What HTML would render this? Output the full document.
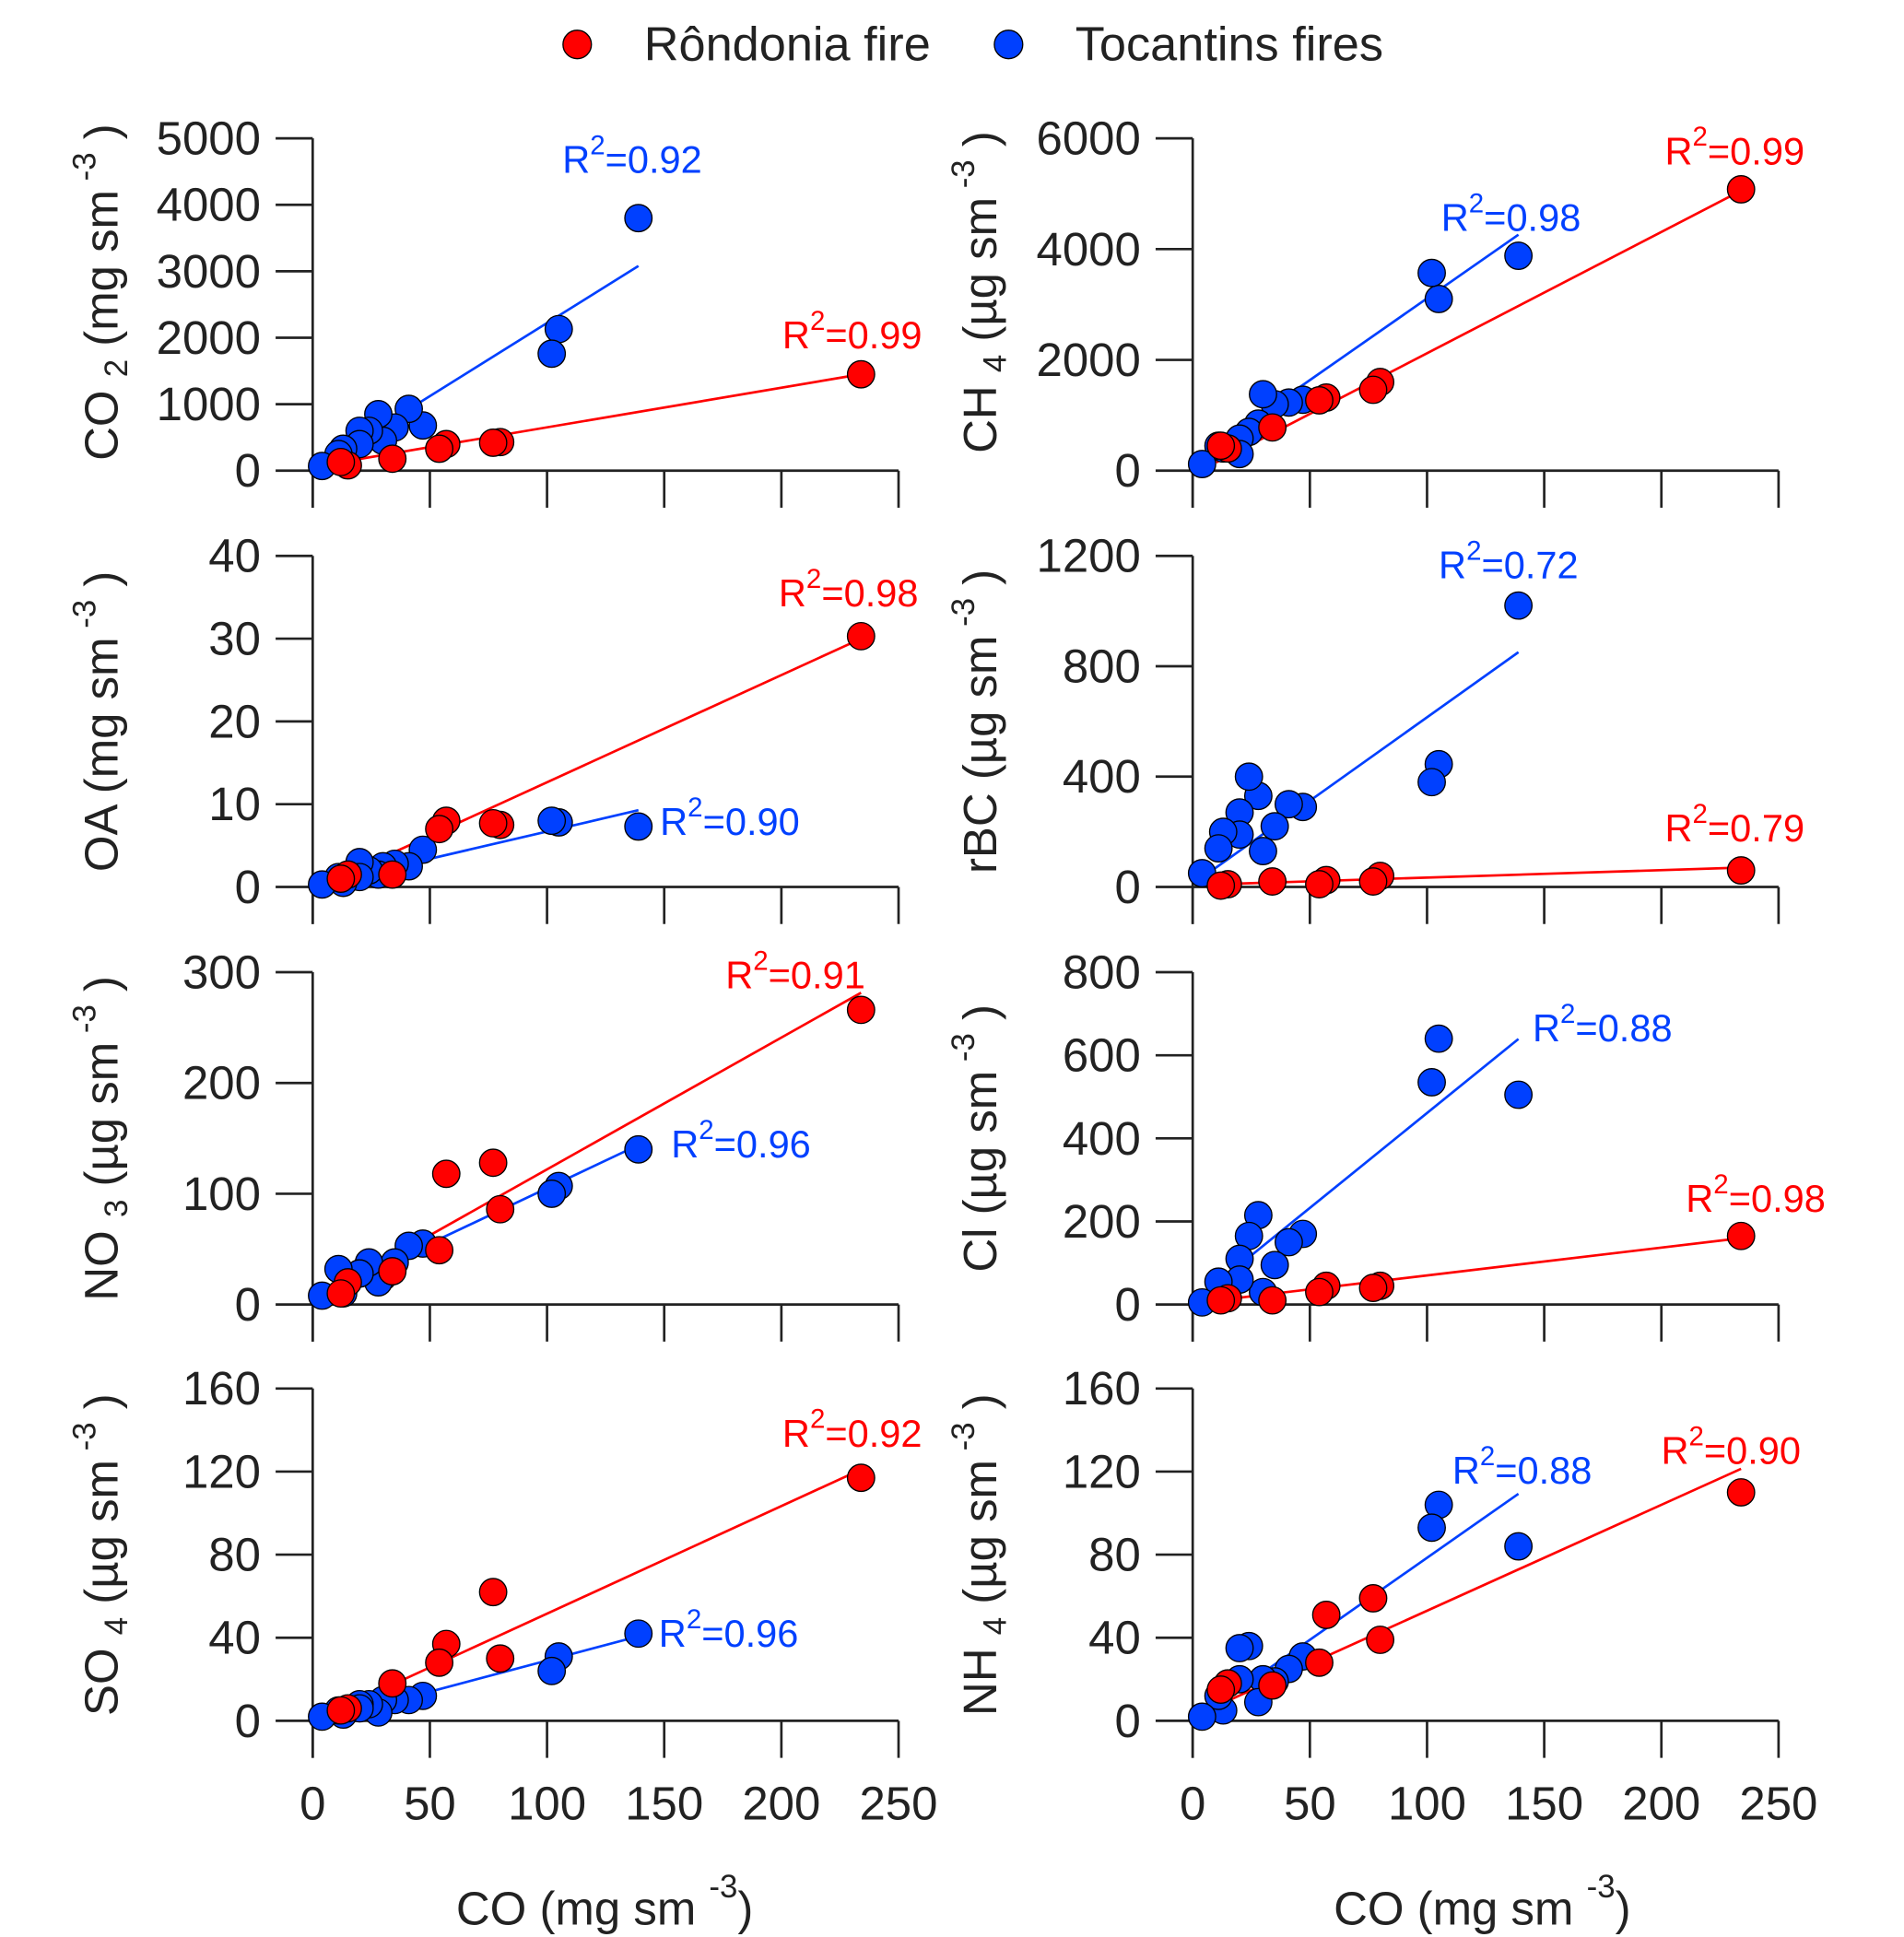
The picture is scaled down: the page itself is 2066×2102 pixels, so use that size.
<!DOCTYPE html>
<html><head><meta charset="utf-8"><style>
html,body{margin:0;padding:0;background:#fff;}
svg{display:block;}
text{font-family:"Liberation Sans",Arial,sans-serif;}
</style></head><body>
<svg id="chart" xmlns="http://www.w3.org/2000/svg" width="2066" height="2102" viewBox="0 0 1540.5 1568" preserveAspectRatio="none">
<g>
<circle cx="467" cy="36" r="11.5" fill="#ff0000" stroke="#000" stroke-width="1"/>
<text x="521" y="49" font-size="39" fill="#222">Rôndonia fire</text>
<circle cx="816" cy="36" r="11.5" fill="#0040ff" stroke="#000" stroke-width="1"/>
<text x="870" y="49" font-size="39" fill="#222">Tocantins fires</text>
</g>
<g id="panels"></g>
</svg>
<script>
// X (CO) values
const redX = [234, 80, 77, 57, 54, 34, 15, 12];
const blueX = [139, 105, 102, 47, 41, 35, 30, 28, 24, 20, 20, 13, 11, 4];
// Panel 1 CO2
const co2Red = [1450, 430, 420, 400, 330, 180, 80, 130];
const co2Blue = [3800, 2130, 1760, 680, 930, 650, 450, 850, 600, 600, 400, 330, 250, 70];
// Panel 2 CH4
const ch4Red = [5080, 1600, 1460, 1320, 1270, 780, 400, 450];
const ch4Blue = [3880, 3100, 3570, 1280, 1230, 1200, 1380, 850, 700, 580, 300, 400, 450, 120];
// Panel 3 OA
const oaRed = [30.3, 7.5, 7.7, 8, 7, 1.5, 1.5, 1];
const oaBlue = [7.3, 7.8, 8, 4.5, 2.5, 2.8, 2.5, 1.5, 2, 3, 1.2, 0.5, 1.2, 0.3];
// Panel 4 rBC
const rbcRed = [60, 40, 20, 25, 10, 20, 10, 5];
const rbcBlue = [1020, 445, 380, 290, 300, 220, 130, 330, 400, 270, 190, 200, 140, 50];
// Panel 5 NO3
const no3Red = [266, 86, 128, 118, 49, 30, 20, 10];
const no3Blue = [140, 107, 100, 55, 53, 38, 25, 20, 38, 28, 28, 10, 32, 8];
// Panel 6 Cl
const clRed = [165, 45, 40, 45, 30, 10, 15, 10];
const clBlue = [505, 640, 535, 170, 150, 95, 30, 215, 165, 110, 60, 15, 55, 5];
// Panel 7 SO4
const so4Red = [117, 30, 62, 37, 28, 18, 6, 5];
const so4Blue = [42, 31, 24, 12, 10, 10, 10, 4, 8, 8, 6, 3, 5, 2];
// Panel 8 NH4
const nh4Red = [110, 39, 59, 51, 28, 17, 18, 15];
const nh4Blue = [84, 104, 93, 31, 25, 19, 20, 9, 36, 35, 20, 5, 12, 2];
// Fit lines [slope, intercept, xStart, xEnd]
const fitRed = [[5.96, 56, 9, 234], [21.9, -70, 10, 234], [0.1295, -0.3, 10, 234], [0.27, 7, 10, 234], [1.19, 3, 10, 234], [0.67, 3, 10, 234], [0.518, -0.2, 10, 234], [0.51, 2, 12, 234]];
const fitBlue = [[22, 22, 10, 139], [29.5, 160, 10, 139], [0.066, 0.1, 8, 139], [6.05, 10, 5, 139], [1.0, 5, 10, 139], [4.57, 4, 10, 139], [0.30, -1, 10, 139], [0.79, -0.5, 31, 139]];
const r2Red = ["0.99", "0.99", "0.98", "0.79", "0.91", "0.98", "0.92", "0.90"];
const r2Blue = ["0.92", "0.98", "0.90", "0.72", "0.96", "0.88", "0.96", "0.88"];
const yMax = [5000, 6000, 40, 1200, 300, 800, 160, 160];
const yTicks = [[0,1000,2000,3000,4000,5000],[0,2000,4000,6000],[0,10,20,30,40],[0,400,800,1200],[0,100,200,300],[0,200,400,600,800],[0,40,80,120,160],[0,40,80,120,160]];
const xTicks = [0, 50, 100, 150, 200, 250];
const ySpecies = [["CO","2","mg"],["CH","4","µg"],["OA","","mg"],["rBC","","µg"],["NO","3","µg"],["Cl","","µg"],["SO","4","µg"],["NH","4","µg"]];
const names = ["co2","ch4","oa","rbc","no3","cl","so4","nh4"];
const redLabelPos = [[633,282],[1347,133],[630,491],[1347,681],[587,800],[1364,981],[633,1171],[1344,1185]];
const blueLabelPos = [[455,140],[1166,187],[534,676],[1164,468],[543,937],[1240,843],[533,1333],[1175,1201]];

const NS = "http://www.w3.org/2000/svg";
const root = document.getElementById("panels");
function mk(tag, attrs, parent){const e=document.createElementNS(NS,tag);for(const k in attrs)e.setAttribute(k,attrs[k]);(parent||root).appendChild(e);return e;}
const reds=[co2Red,ch4Red,oaRed,rbcRed,no3Red,clRed,so4Red,nh4Red];
const blues=[co2Blue,ch4Blue,oaBlue,rbcBlue,no3Blue,clBlue,so4Blue,nh4Blue];
const rowTop=[112,450,787,1124], rowZero=[381,718,1056,1393];
const RED="#ff0000", BLUE="#0040ff", INK="#222";

for(let p=0;p<8;p++){
  const col=p%2,row=Math.floor(p/2);
  const x0=col?965:253, xw=474;
  const top=rowTop[row], zero=rowZero[row];
  const sx=v=>x0+v/250*xw;
  const sy=v=>zero-v/yMax[p]*(zero-top);
  const g=mk("g",{});
  
  
  const ya=mk("line",{x1:x0,y1:top,x2:x0,y2:zero+30,stroke:INK,"stroke-width":2},g);
  
  
  const xa=mk("line",{x1:x0,y1:zero,x2:x0+xw,y2:zero,stroke:INK,"stroke-width":2},g);
  
  
  for(const t of xTicks){
    const tk=mk("line",{x1:sx(t),y1:zero,x2:sx(t),y2:zero+30,stroke:INK,"stroke-width":2},g);
    
    
    if(row===3){
      const tl=mk("text",{x:sx(t),y:1473,"font-size":38,"text-anchor":"middle",fill:INK},g);
      tl.textContent=t;
      
      
    }
  }
  for(const t of yTicks[p]){
    const tk=mk("line",{x1:x0-30,y1:sy(t),x2:x0,y2:sy(t),stroke:INK,"stroke-width":2},g);
    
    
    const tl=mk("text",{x:x0-42,y:sy(t)+13,"font-size":38,"text-anchor":"end",fill:INK},g);
    tl.textContent=t;
    
    
  }
  const cy=(top+zero)/2+(row===0?-10:0);
  const lx=col?806:95;
  const yt=mk("text",{x:0,y:0,"font-size":38,"text-anchor":"middle",fill:INK,transform:`translate(${lx},${cy}) rotate(-90)`},g);
  
  
  const sp=ySpecies[p];
  let s1=mk("tspan",{},yt); s1.textContent=sp[0]+" ";
  if(sp[1]){let s2=mk("tspan",{"font-size":26,dy:8},yt);s2.textContent=sp[1];let s3=mk("tspan",{dy:-8},yt);s3.textContent=" ("+sp[2]+" sm";}
  else{let s3=mk("tspan",{},yt);s3.textContent="("+sp[2]+" sm";}
  let s4=mk("tspan",{"font-size":26,dy:-18},yt); s4.textContent=" -3";
  let s5=mk("tspan",{dy:18},yt); s5.textContent=" )";
  const fits=[[fitRed[p],RED,"red"],[fitBlue[p],BLUE,"blue"]];
  for(const [f,c,n] of fits){
    const l=mk("line",{x1:sx(f[2]),y1:sy(f[0]*f[2]+f[1]),x2:sx(f[3]),y2:sy(f[0]*f[3]+f[1]),stroke:c,"stroke-width":2},g);
    
    
  }
  blues[p].forEach((v,i)=>{
    const c=mk("circle",{cx:sx(blueX[i]),cy:sy(v),r:11,fill:BLUE,stroke:"#000","stroke-width":1},g);
    
    
  });
  reds[p].forEach((v,i)=>{
    const c=mk("circle",{cx:sx(redX[i]),cy:sy(v),r:11,fill:RED,stroke:"#000","stroke-width":1},g);
    
    
  });
  const labs=[[redLabelPos[p],r2Red[p],RED,"red"],[blueLabelPos[p],r2Blue[p],BLUE,"blue"]];
  for(const [pos,val,c,n] of labs){
    const t=mk("text",{x:pos[0],y:pos[1],"font-size":31,fill:c},g);
    
    
    let a=mk("tspan",{},t);a.textContent="R";
    let b=mk("tspan",{"font-size":22,dy:-15},t);b.textContent="2";
    let d=mk("tspan",{dy:15},t);d.textContent="="+val;
  }
}
[490,1200].forEach((cx,i)=>{
  const t=mk("text",{x:cx-121,y:1558,"font-size":38,fill:INK});
  
  
  let a=mk("tspan",{},t);a.textContent="CO (mg sm ";
  let b=mk("tspan",{"font-size":26,dy:-22},t);b.textContent="-3";
  let d=mk("tspan",{dy:22},t);d.textContent=")";
});
</script>
</body></html>
